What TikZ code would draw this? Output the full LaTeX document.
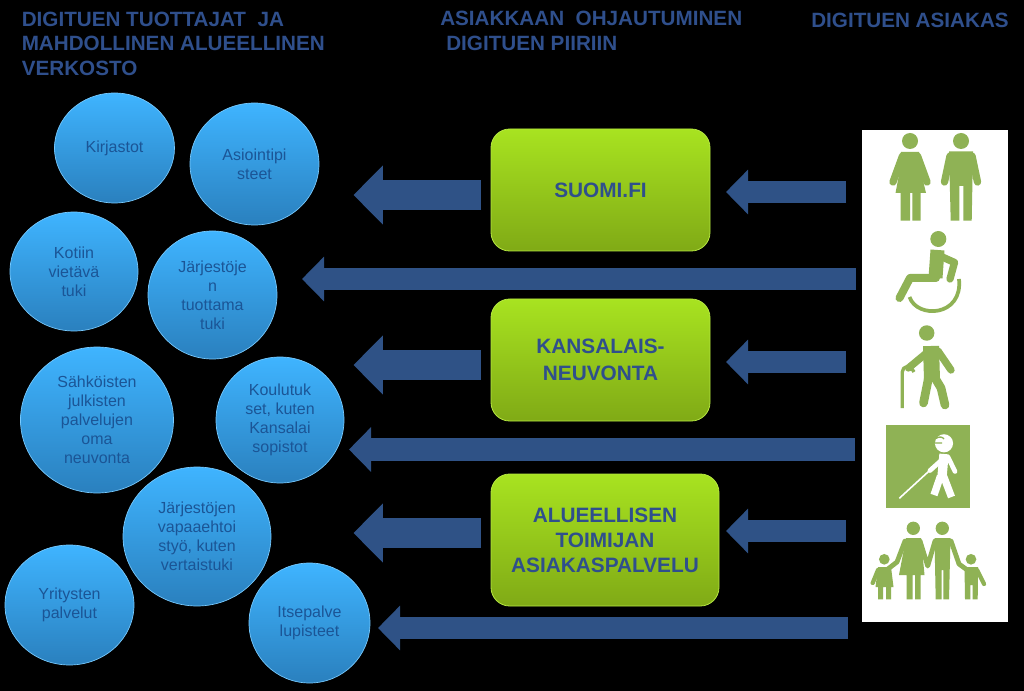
\documentclass[tikz,border=0pt]{standalone}
\usepackage{fontspec}
\setmainfont{Liberation Sans}
\usetikzlibrary{arrows.meta,shapes.geometric}
\definecolor{arrowblue}{HTML}{2F5286}
\definecolor{headblue}{HTML}{2F4F8C}
\definecolor{textblue}{HTML}{1B5596}
\definecolor{iconfill}{HTML}{8FB255}
\definecolor{bubbletop}{HTML}{3FB4FF}
\definecolor{bubblelow}{HTML}{2A80BE}
\definecolor{boxtop}{HTML}{A8E320}
\definecolor{boxlow}{HTML}{80AA16}
\def\px{0.75pt}
\begin{document}
\begin{tikzpicture}[x=0.75pt,y=-0.75pt]
	\tikzset{head/.style={anchor=west,text=headblue,font=\fontsize{15.5}{18.4}\selectfont\bfseries,align=left,inner sep=0pt},
	         bubble/.style n args={2}{ellipse,minimum width=#1*\px,minimum height=#2*\px,inner sep=0pt,
	                 top color=bubbletop,bottom color=bubblelow,draw=bubbletop!70!white,line width=0.5pt,
	                 text=textblue,align=center,font=\fontsize{12}{14.3}\selectfont},
	         service/.style n args={2}{rectangle,rounded corners=14pt,minimum width=#1*\px,minimum height=#2*\px,
	                 top color=boxtop,bottom color=boxlow,draw=boxtop!85!white,line width=0.6pt,
	                 text=headblue,align=center,font=\fontsize{15.6}{18.75}\selectfont\bfseries},
	         bigarrow/.style={draw=arrowblue,line width=22pt,-{Triangle[length=22pt,width=43pt]}},
	         thinarrow/.style={draw=arrowblue,line width=16.8pt,-{Triangle[length=16.5pt,width=32.5pt]}},
	         limb/.style={draw=iconfill,line width=5.5pt,line cap=round,line join=round},
	         bodyfill/.style={fill=iconfill,draw=none}}
	\useasboundingbox (0,0) rectangle (1024,691);
	\fill[black] (0,0) rectangle (1024,691);
	\node[head] (htuottajat) at (21.5,43.5) {DIGITUEN TUOTTAJAT\ \ JA\\MAHDOLLINEN ALUEELLINEN\\VERKOSTO};
	\node[head] (hohjaus) at (440,31) {ASIAKKAAN\ \ OHJAUTUMINEN\\\hspace*{4.5pt}DIGITUEN PIIRIIN};
	\node[head] (hasiakas) at (811,20) {DIGITUEN ASIAKAS};
	\node[bubble={120}{110}] (kirjastot) at (114.5,148) {\raisebox{-1pt}{Kirjastot}};
	\node[bubble={129}{122}] (asiointi) at (254.5,164) {Asiointipi\\steet};
	\node[bubble={128}{119}] (kotiin) at (74,271.5) {Kotiin\\vietävä\\tuki};
	\node[bubble={129}{128}] (jarjesto) at (212.5,295) {Järjestöje\\n\\tuottama\\tuki};
	\node[bubble={153}{146}] (sahkoinen) at (97,420) {Sähköisten\\julkisten\\palvelujen\\oma\\neuvonta};
	\node[bubble={128}{126}] (koulutus) at (280,420) {Koulutuk\\set, kuten\\Kansalai\\sopistot};
	\node[bubble={148}{139}] (vapaaeht) at (197,536.5) {Järjestöjen\\vapaaehtoi\\styö, kuten\\vertaistuki};
	\node[bubble={129}{120}] (yritys) at (69.5,605) {Yritysten\\palvelut};
	\node[bubble={121}{120}] (itsepalvelu) at (309.5,623) {Itsepalve\\lupisteet};
	\node[service={219}{122}] (suomi) at (600.5,190) {SUOMI.FI};
	\node[service={219}{122}] (kansalais) at (600.5,360) {KANSALAIS-\\[1.5pt]NEUVONTA};
	\node[service={228}{132}] (alue) at (605,540) {ALUEELLISEN\\TOIMIJAN\\ASIAKASPALVELU};
	\node[rectangle,fill=white,minimum width=146*\px,minimum height=492*\px,inner sep=0pt] (paneeli) at (935,376) {};
	\coordinate (a1s) at (481,195); \coordinate (a1t) at (353.5,195);
	\coordinate (a2s) at (846,192); \coordinate (a2t) at (726,192);
	\coordinate (a3s) at (856,279); \coordinate (a3t) at (302,279);
	\coordinate (a4s) at (480.5,365); \coordinate (a4t) at (353.5,365);
	\coordinate (a5s) at (846,362); \coordinate (a5t) at (726,362);
	\coordinate (a6s) at (855,449.5); \coordinate (a6t) at (349,449.5);
	\coordinate (a7s) at (480.5,533); \coordinate (a7t) at (353.5,533);
	\coordinate (a8s) at (846,531); \coordinate (a8t) at (726,531);
	\coordinate (a9s) at (848,628); \coordinate (a9t) at (378,628);
	\draw[bigarrow] (a1s)--(a1t); \draw[bigarrow] (a4s)--(a4t); \draw[bigarrow] (a7s)--(a7t);
	\draw[thinarrow] (a2s)--(a2t); \draw[thinarrow] (a5s)--(a5t); \draw[thinarrow] (a8s)--(a8t);
	\draw[thinarrow] (a3s)--(a3t); \draw[thinarrow] (a6s)--(a6t); \draw[thinarrow] (a9s)--(a9t);
	\fill[bodyfill] (910,141) circle[radius=6pt];
	\fill[bodyfill] (901,152)--(919,152)--(921,172)--(926,193)--(920.7,193)--(920.7,220.7)--(912.3,220.7)--(912.3,193)--(910,193)--(910,220.7)--(900.7,220.7)--(900.7,193)--(895.5,193)--(899.5,172)--cycle;
	\draw[limb] (902.5,156)--(893,182); \draw[limb] (917.5,156)--(927,182);
	\fill[bodyfill] (961,141) circle[radius=6pt];
	\fill[bodyfill] (949,151.5)--(973,151.5)--(971.7,220.7)--(963.3,220.7)--(963.3,186)--(959.3,186)--(959.3,220.7)--(950.7,220.7)--cycle;
	\draw[limb] (950,156)--(944.5,182); \draw[limb] (972,156)--(977.5,182);
	\fill[bodyfill] (938.3,239) circle[radius=6pt];
	\draw[limb,line width=10.5pt,line cap=butt] (937.5,250)--(935.5,278);
	\draw[limb] (940,256)--(954.5,262.5)--(950,279);
	\draw[limb,line width=6pt] (936,278)--(910,278)--(899.5,298);
	\draw[limb,line width=2.8pt,line cap=butt] (909.5,297) .. controls (917,319) and (963,317) .. (959,279);
	\fill[bodyfill] (926.7,333) circle[radius=5.8pt];
	\draw[limb,line width=12pt,line cap=butt] (931,346)--(932,380);
	\draw[limb] (929,351)--(908.5,368);
	\draw[limb] (938,351)--(951,370);
	\draw[limb,line width=6.5pt] (928.5,378)--(923.5,403);
	\draw[limb,line width=6.5pt] (935,378)--(941,388)--(945,405);
	\draw[limb,line width=2.5pt,line cap=butt] (902.3,408)--(902.3,372) .. controls (902.3,366) and (910,364) .. (914,372);
	\fill[bodyfill] (886,425) rectangle (970,507.7);
	\fill[white] (944,443.3) circle[radius=6.8pt];
	\draw[draw=iconfill,line width=1pt] (935,443)--(942,443) (936,438.5) .. controls (939,436) and (943,437) .. (944,439);
	\draw[white,line width=7pt,line cap=butt] (944,454)--(942,477);
	\draw[white,line width=3.5pt,line cap=round] (945,457)--(930,470.5);
	\draw[white,line width=3.5pt,line cap=round] (948,457)--(955,471.5);
	\draw[white,line width=5.5pt] (940.5,476)--(934,495);
	\draw[white,line width=5.5pt] (943.5,476)--(951.5,497);
	\draw[white,line width=1.2pt] (928.3,471.7)--(899.3,498.3);
	\fill[bodyfill] (913.3,528.3) circle[radius=5pt];
	\fill[bodyfill] (906,538)--(921,538)--(924.5,575)--(920.7,575)--(920.7,599.3)--(915,599.3)--(915,575)--(912.7,575)--(912.7,599.3)--(906.7,599.3)--(906.7,575)--(899,575)--cycle;
	\fill[bodyfill] (942.3,528.3) circle[radius=5pt];
	\fill[bodyfill] (934.5,538)--(950.5,538)--(949,599.3)--(943.3,599.3)--(943.3,570)--(941.7,570)--(941.7,599.3)--(935.7,599.3)--cycle;
	\draw[limb,line width=3.6pt] (905,541)--(897,562)--(884,572);
	\draw[limb,line width=3.6pt] (920,541)--(927.7,566)--(935,541);
	\draw[limb,line width=3.6pt] (951,541)--(959,564)--(970,572);
	\fill[bodyfill] (884.3,559.3) circle[radius=4pt];
	\fill[bodyfill] (878,567)--(891,567)--(893.5,587)--(891,587)--(891,599.3)--(886,599.3)--(886,587)--(883,587)--(883,599.3)--(878,599.3)--(878,587)--(875.5,587)--cycle;
	\draw[limb,line width=3.2pt] (878,570)--(872.7,583);
	\fill[bodyfill] (971,559.3) circle[radius=4pt];
	\fill[bodyfill] (964.5,567)--(978,567)--(977.7,599.3)--(972.7,599.3)--(972.7,585)--(970.3,585)--(970.3,599.3)--(965,599.3)--cycle;
	\draw[limb,line width=3.2pt] (977,570)--(984,584);
\end{tikzpicture}
\end{document}
